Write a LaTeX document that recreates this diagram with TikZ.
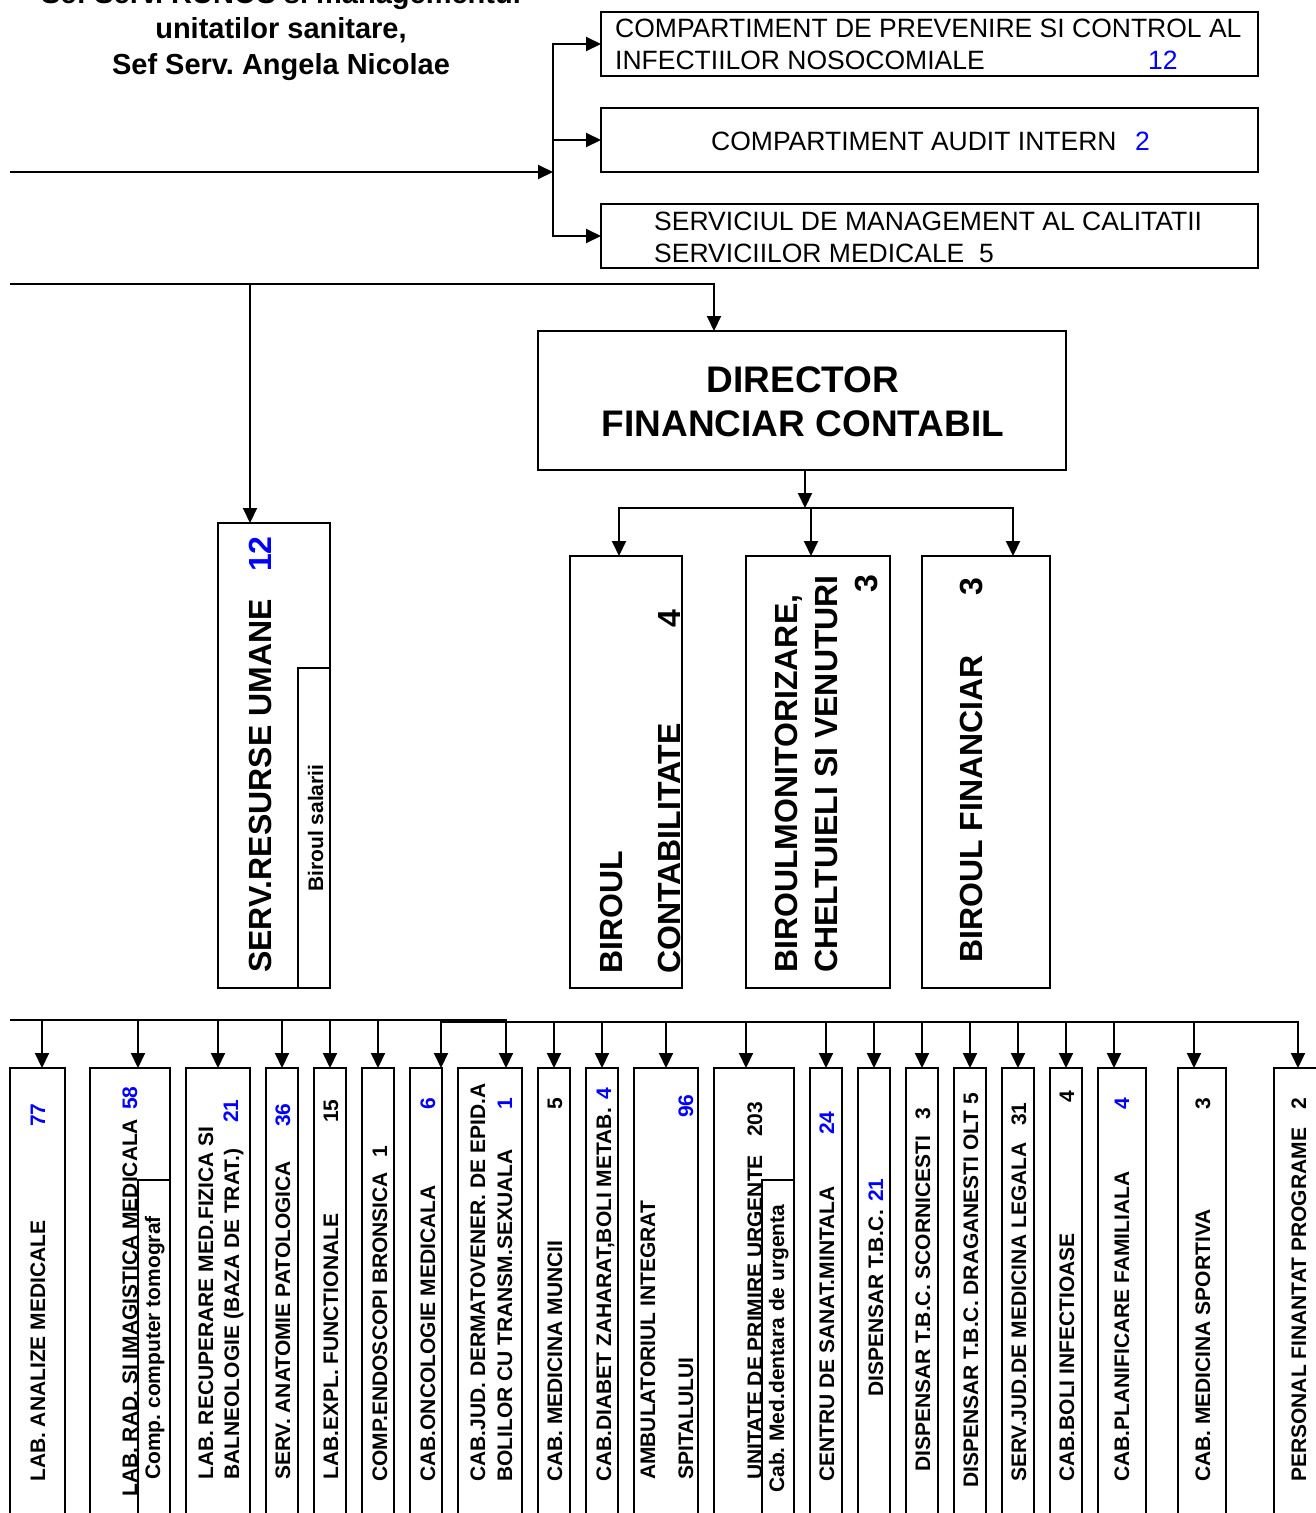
\documentclass[tikz,border=0pt]{standalone}
\usepackage{fontspec}
\setmainfont{Liberation Sans}
\usetikzlibrary{arrows.meta}
\definecolor{numblue}{RGB}{0,0,255}
\newcommand{\fsz}[1]{\fontsize{#1}{#1}\selectfont}
\frenchspacing
\begin{document}
\begin{tikzpicture}[x=1pt,y=-1pt,
  ln/.style={line width=2pt,line cap=rect},
  arr/.style={line width=2pt,-{Triangle[length=15pt,width=14pt]}},
  arrb/.style={line width=2pt,{Triangle[length=15pt,width=14pt]}-{Triangle[length=15pt,width=14pt]}},
  box/.style={draw,line width=2pt,inner sep=0pt,outer sep=0pt,anchor=north west},
  vt/.style={rotate=90,anchor=base west,inner sep=0pt,font=\fsz{21}\bfseries},
  vtb/.style={rotate=90,anchor=base west,inner sep=0pt,font=\fsz{32}\bfseries},
  ht/.style={anchor=base west,inner sep=0pt,font=\fsz{26.5}},
  ttl/.style={anchor=base,inner sep=0pt,font=\fsz{29}\bfseries},
  nb/.style={text=numblue}]
\useasboundingbox (0,0) rectangle (1316,1513);

% ---------- title ----------
\node[ttl] (t1) at (281,3) {Sef Serv. RUNOS si managementul};
\node[ttl] (t2) at (281,38) {unitatilor sanitare,};
\node[ttl] (t3) at (281,74) {Sef Serv. Angela Nicolae};

% ---------- top right boxes ----------
\node[box,minimum width=657pt,minimum height=64pt] (cpc) at (601,12) {};
\node[box,minimum width=657pt,minimum height=64pt] (aud) at (601,108) {};
\node[box,minimum width=657pt,minimum height=64pt] (smc) at (601,204) {};
\node[ht] (cpc1) at (615,37) {COMPARTIMENT DE PREVENIRE SI CONTROL AL};
\node[ht] (cpc2) at (615,69) {INFECTIILOR NOSOCOMIALE};
\node[ht,nb] (cpcn) at (1148,69) {12};
\node[ht] (aud1) at (711,150) {COMPARTIMENT AUDIT INTERN};
\node[ht,nb] (audn) at (1135,150) {2};
\node[ht] (smc1) at (654,230) {SERVICIUL DE MANAGEMENT AL CALITATII};
\node[ht] (smc2) at (654,262) {SERVICIILOR MEDICALE\ \ 5};

\coordinate (in1) at (10,172);
\coordinate (busT) at (553,44);
\coordinate (busM) at (553,172);
\draw[arr] (in1) -- (busM);
\draw[arrb] (cpc.west) -- (busT) -- (busT |- smc.west) -- (smc.west);
\draw[arr] (busM |- aud.west) -- (aud.west);

% ---------- director ----------
\node[box,minimum width=528pt,minimum height=139pt] (dir) at (538,331) {};
\node[anchor=base,inner sep=0pt,font=\fsz{37}\bfseries] (dir1) at (803,392) {DIRECTOR};
\node[anchor=base,inner sep=0pt,font=\fsz{37}\bfseries] (dir2) at (803,436) {FINANCIAR CONTABIL};

% ---------- middle boxes ----------
\node[box,minimum width=112pt,minimum height=465pt] (ru) at (218,523) {};
\node[box,minimum width=32pt,minimum height=320pt] (rus) at (298,668) {};
\node[box,minimum width=112pt,minimum height=432pt] (bc) at (570,556) {};
\node[box,minimum width=144pt,minimum height=432pt] (bm) at (746,556) {};
\node[box,minimum width=128pt,minimum height=432pt] (bf) at (922,556) {};

\node[vtb] (ru1) at (271,973) {SERV.RESURSE UMANE};
\node[vtb,nb] (ru2) at (271,572) {12};
\node[vt] (rus1) at (323,892) {Biroul salarii};
\node[vtb] (bc1) at (622,974) {BIROUL};
\node[vtb] (bc2) at (680,974) {CONTABILITATE};
\node[vtb] (bc3) at (680,628) {4};
\node[vtb] (bm1) at (797,973) {BIROULMONITORIZARE,};
\node[vtb] (bm2) at (837,973) {CHELTUIELI SI VENUTURI};
\node[vtb] (bm3) at (877,593) {3};
\node[vtb] (bf1) at (982,963) {BIROUL FINANCIAR};
\node[vtb] (bf2) at (982,596) {3};

\coordinate (in2) at (10,284);
\coordinate (dj) at (714,284);
\coordinate (rj) at (250,284);
\draw[arr] (in2) -- (dj) -- (dj |- dir.north);
\draw[arr] (rj) -- (rj |- ru.north);

\coordinate (dbus) at (805,508);
\coordinate (fb1) at (619,508);
\coordinate (fb2) at (811,508);
\coordinate (fb3) at (1013,508);
\draw[arr] (dbus |- dir.south) -- (dbus);
\draw[arrb] (fb1 |- bc.north) -- (fb1) -- (fb3) -- (fb3 |- bf.north);
\draw[arr] (fb2) -- (fb2 |- bm.north);

% ---------- bottom row boxes ----------
\node[box,minimum width=55pt,minimum height=470pt] (a1) at (10,1068) {};
\node[box,minimum width=80pt,minimum height=470pt] (a2) at (90,1068) {};
\node[box,minimum width=32pt,minimum height=358pt] (a2i) at (138,1180) {};
\node[box,minimum width=64pt,minimum height=470pt] (a3) at (186,1068) {};
\node[box,minimum width=32pt,minimum height=470pt] (a4) at (266,1068) {};
\node[box,minimum width=32pt,minimum height=470pt] (a5) at (314,1068) {};
\node[box,minimum width=32pt,minimum height=470pt] (a6) at (362,1068) {};
\node[box,minimum width=32pt,minimum height=470pt] (a7) at (410,1068) {};
\node[box,minimum width=64pt,minimum height=470pt] (a8) at (458,1068) {};
\node[box,minimum width=32pt,minimum height=470pt] (a9) at (538,1068) {};
\node[box,minimum width=32pt,minimum height=470pt] (a10) at (586,1068) {};
\node[box,minimum width=64pt,minimum height=470pt] (a11) at (634,1068) {};
\node[box,minimum width=80pt,minimum height=470pt] (a12) at (714,1068) {};
\node[box,minimum width=32pt,minimum height=358pt] (a12i) at (762,1180) {};
\node[box,minimum width=32pt,minimum height=470pt] (a13) at (810,1068) {};
\node[box,minimum width=32pt,minimum height=470pt] (a14) at (858,1068) {};
\node[box,minimum width=32pt,minimum height=470pt] (a15) at (906,1068) {};
\node[box,minimum width=32pt,minimum height=470pt] (a16) at (954,1068) {};
\node[box,minimum width=32pt,minimum height=470pt] (a17) at (1002,1068) {};
\node[box,minimum width=32pt,minimum height=470pt] (a18) at (1050,1068) {};
\node[box,minimum width=48pt,minimum height=470pt] (a19) at (1098,1068) {};
\node[box,minimum width=48pt,minimum height=470pt] (a20) at (1178,1068) {};
\node[box,minimum width=60pt,minimum height=470pt] (a21) at (1274,1068) {};

% ---------- bottom row texts ----------
\node[vt] (a1t) at (45,1482) {LAB. ANALIZE MEDICALE};
\node[vt,nb] (a1n) at (45,1127) {77};
\node[vt] (a2t) at (137,1497) {LAB. RAD. SI IMAGISTICA MEDICALA};
\node[vt,nb] (a2n) at (137,1110) {58};
\node[vt] (a2it) at (160,1480) {Comp. computer tomograf};
\node[vt] (a3t) at (213,1480) {LAB. RECUPERARE MED.FIZICA SI};
\node[vt] (a3u) at (239,1480) {BALNEOLOGIE (BAZA DE TRAT.)};
\node[vt,nb] (a3n) at (238,1123) {21};
\node[vt] (a4t) at (290,1480) {SERV. ANATOMIE PATOLOGICA};
\node[vt,nb] (a4n) at (290,1127) {36};
\node[vt] (a5t) at (338,1480) {LAB.EXPL. FUNCTIONALE};
\node[vt] (a5n) at (338,1123) {15};
\node[vt] (a6t) at (387,1482) {COMP.ENDOSCOPI BRONSICA};
\node[vt] (a6n) at (387,1158) {1};
\node[vt] (a7t) at (435,1482) {CAB.ONCOLOGIE MEDICALA};
\node[vt,nb] (a7n) at (435,1110) {6};
\node[vt] (a8t) at (485,1482) {CAB.JUD. DERMATOVENER. DE EPID.A};
\node[vt] (a8u) at (512,1482) {BOLILOR CU TRANSM.SEXUALA};
\node[vt,nb] (a8n) at (512,1110) {1};
\node[vt] (a9t) at (562,1482) {CAB. MEDICINA MUNCII};
\node[vt] (a9n) at (562,1110) {5};
\node[vt] (a10t) at (611,1482) {CAB.DIABET ZAHARAT,BOLI METAB.};
\node[vt,nb] (a10n) at (611,1100) {4};
\node[vt] (a11t) at (655,1480) {AMBULATORIUL INTEGRAT};
\node[vt] (a11u) at (693,1480) {SPITALULUI};
\node[vt,nb] (a11n) at (693,1118) {96};
\node[vt] (a12t) at (762,1480) {UNITATE DE PRIMIRE URGENTE};
\node[vt] (a12n) at (762,1137) {203};
\node[vt] (a12it) at (784,1493) {Cab. Med.dentara de urgenta};
\node[vt] (a13t) at (834,1482) {CENTRU DE SANAT.MINTALA};
\node[vt,nb] (a13n) at (834,1135) {24};
\node[vt] (a14t) at (883,1397) {DISPENSAR T.B.C.};
\node[vt,nb] (a14n) at (883,1202) {21};
\node[vt] (a15t) at (930,1472) {DISPENSAR T.B.C. SCORNICESTI};
\node[vt] (a15n) at (930,1120) {3};
\node[vt] (a16t) at (978,1488) {DISPENSAR T.B.C. DRAGANESTI OLT 5};
\node[vt] (a17t) at (1026,1482) {SERV.JUD.DE MEDICINA LEGALA};
\node[vt] (a17n) at (1026,1126) {31};
\node[vt] (a18t) at (1074,1482) {CAB.BOLI INFECTIOASE};
\node[vt] (a18n) at (1074,1103) {4};
\node[vt] (a19t) at (1129,1482) {CAB.PLANIFICARE FAMILIALA};
\node[vt,nb] (a19n) at (1129,1110) {4};
\node[vt] (a20t) at (1210,1482) {CAB. MEDICINA SPORTIVA};
\node[vt] (a20n) at (1210,1110) {3};
\node[vt] (a21t) at (1306,1482) {PERSONAL FINANTAT PROGRAME};
\node[vt] (a21n) at (1306,1110) {2};

% ---------- bottom row connectors ----------
\coordinate (lb0) at (10,1020);
\coordinate (lb1) at (506,1020);
\coordinate (rb0) at (441,1022);
\coordinate (rb1) at (1298,1022);
\draw[arr] (lb0) -- (lb1) -- (lb1 |- a8.north);
\draw[arrb] (rb0 |- a7.north) -- (rb0) -- (rb1) -- (rb1 |- a21.north);
\coordinate (d1) at (42,1020);
\coordinate (d2) at (138,1020);
\coordinate (d3) at (218,1020);
\coordinate (d4) at (282,1020);
\coordinate (d5) at (330,1020);
\coordinate (d6) at (378,1020);
\coordinate (d9) at (554,1022);
\coordinate (d10) at (602,1022);
\coordinate (d11) at (666,1022);
\coordinate (d12) at (746,1022);
\coordinate (d13) at (826,1022);
\coordinate (d14) at (874,1022);
\coordinate (d15) at (922,1022);
\coordinate (d16) at (970,1022);
\coordinate (d17) at (1018,1022);
\coordinate (d18) at (1066,1022);
\coordinate (d19) at (1114,1022);
\coordinate (d20) at (1194,1022);
\draw[arr] (d1) -- (d1 |- a1.north);
\draw[arr] (d2) -- (d2 |- a2.north);
\draw[arr] (d3) -- (d3 |- a3.north);
\draw[arr] (d4) -- (d4 |- a4.north);
\draw[arr] (d5) -- (d5 |- a5.north);
\draw[arr] (d6) -- (d6 |- a6.north);
\draw[arr] (d9) -- (d9 |- a9.north);
\draw[arr] (d10) -- (d10 |- a10.north);
\draw[arr] (d11) -- (d11 |- a11.north);
\draw[arr] (d12) -- (d12 |- a12.north);
\draw[arr] (d13) -- (d13 |- a13.north);
\draw[arr] (d14) -- (d14 |- a14.north);
\draw[arr] (d15) -- (d15 |- a15.north);
\draw[arr] (d16) -- (d16 |- a16.north);
\draw[arr] (d17) -- (d17 |- a17.north);
\draw[arr] (d18) -- (d18 |- a18.north);
\draw[arr] (d19) -- (d19 |- a19.north);
\draw[arr] (d20) -- (d20 |- a20.north);
\end{tikzpicture}
\end{document}
